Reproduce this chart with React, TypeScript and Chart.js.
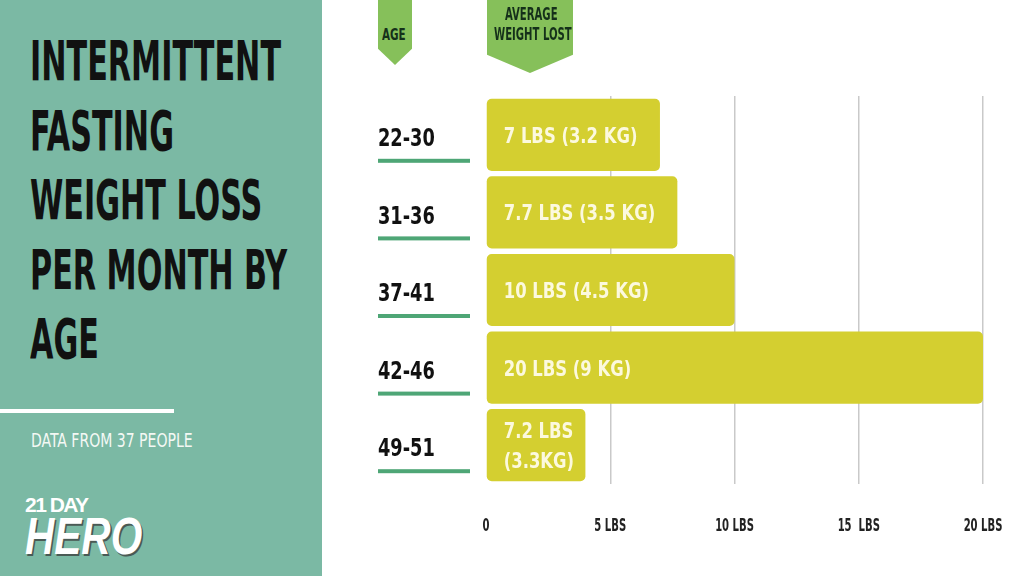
import React, { useEffect, useRef } from "react";
import { Chart, registerables } from "chart.js";

Chart.register(...registerables);

const ageGroups = ["22-30", "31-36", "37-41", "42-46", "49-51"];
const weightLostLbs = [7, 7.7, 10, 20, 4];
const barLabels = [
  ["7 LBS (3.2 KG)"],
  ["7.7 LBS (3.5 KG)"],
  ["10 LBS (4.5 KG)"],
  ["20 LBS (9 KG)"],
  ["7.2 LBS", "(3.3KG)"],
];
const xTickValues = [0, 5, 10, 15, 20];
const xTickLabels = ["0", "5 LBS", "10 LBS", "15  LBS", "20 LBS"];
const titleLines = ["INTERMITTENT", "FASTING", "WEIGHT LOSS", "PER MONTH BY", "AGE"];
const footnote = "DATA FROM 37 PEOPLE";
const ageHeader = "AGE";
const weightHeader = ["AVERAGE", "WEIGHT LOST"];

const FONT = "'DejaVu Sans Condensed', 'DejaVu Sans', sans-serif";

function drawCond(
  ctx: CanvasRenderingContext2D,
  text: string,
  x: number,
  yCenter: number,
  size: number,
  sx: number,
  align: "left" | "center",
  color: string
) {
  ctx.save();
  ctx.font = `bold ${size}px ${FONT}`;
  ctx.fillStyle = color;
  ctx.textBaseline = "alphabetic";
  ctx.textAlign = "left";
  const w = ctx.measureText(text).width * sx;
  const left = align === "center" ? x - w / 2 : x;
  ctx.translate(left, yCenter + (size * 0.729) / 2);
  ctx.scale(sx, 1);
  ctx.fillText(text, 0, 0);
  ctx.restore();
}

const overlayPlugin = {
  id: "overlay",
  afterDatasetsDraw(chart: any) {
    const ctx = chart.ctx as CanvasRenderingContext2D;
    const meta = chart.getDatasetMeta(0);
    const xs = chart.scales.x;
    const ys = chart.scales.y;
    const area = chart.chartArea;
    meta.data.forEach((bar: any, i: number) => {
      const lines = barLabels[i];
      lines.forEach((t, j) => {
        const y = bar.y + (j - (lines.length - 1) / 2) * 30;
        drawCond(ctx, t, bar.base + 17, y, 22, 0.83, "left", "#fcf9de");
      });
      const cy = ys.getPixelForValue(i);
      drawCond(ctx, ageGroups[i], area.left - 108, cy + 2, 25, 0.79, "left", "#111111");
      ctx.fillStyle = "#4ea676";
      ctx.fillRect(area.left - 108, cy + 24, 92, 4);
    });
    xTickValues.forEach((v, i) => {
      drawCond(ctx, xTickLabels[i], xs.getPixelForValue(v), area.bottom + 40, 18, 0.62, "center", "#222222");
    });
  },
};

function BarChart() {
  const ref = useRef<HTMLCanvasElement | null>(null);
  useEffect(() => {
    if (!ref.current) return;
    const chart = new Chart(ref.current, {
      type: "bar",
      data: {
        labels: ageGroups,
        datasets: [
          {
            data: weightLostLbs,
            backgroundColor: "#d4cf30",
            borderRadius: 5,
            borderSkipped: false,
            barPercentage: 0.93,
            categoryPercentage: 1,
          },
        ],
      },
      options: {
        indexAxis: "y",
        animation: false,
        responsive: true,
        maintainAspectRatio: false,
        layout: { padding: { left: 164, right: 41, top: 96, bottom: 92 } },
        plugins: { legend: { display: false }, tooltip: { enabled: false } },
        scales: {
          y: { display: false },
          x: {
            min: 0,
            max: 20,
            ticks: { display: false, stepSize: 5 },
            border: { display: false },
            grid: {
              drawTicks: false,
              lineWidth: 1.5,
              color: (c: any) => (c.tick && c.tick.value === 0 ? "rgba(0,0,0,0)" : "#c9c9c9"),
            },
          },
        },
      },
      plugins: [overlayPlugin],
    } as any);
    return () => chart.destroy();
  }, []);
  return <canvas ref={ref} />;
}

const condText = (size: number, sx: number, color: string): React.CSSProperties => ({
  position: "absolute",
  fontFamily: FONT,
  fontWeight: "bold",
  fontSize: size,
  lineHeight: 1,
  color,
  whiteSpace: "nowrap",
  transform: `scaleX(${sx})`,
  transformOrigin: "left top",
});

export default function App() {
  useEffect(() => {
    document.body.style.margin = "0";
  }, []);
  const tabClip = "polygon(0 0, 100% 0, 100% 75%, 50% 100%, 0 75%)";
  return (
    <div style={{ position: "relative", width: 1024, height: 576, overflow: "hidden", background: "#ffffff" }}>
      <div style={{ position: "absolute", left: 0, top: 0, width: 322, height: 576, background: "#7bb9a4" }}>
        {titleLines.map((t, i) => (
          <div key={t} style={{ ...condText(56, 0.6, "#111111"), left: 30, top: 33 + i * 69.5 }}>
            {t}
          </div>
        ))}
        <div style={{ position: "absolute", left: 0, top: 409, width: 174, height: 4, background: "#ffffff" }} />
        <div style={{ ...condText(20, 0.78, "#f4f8f4"), left: 31, top: 430, fontWeight: "normal" as any }}>{footnote}</div>
        <div
          style={{
            position: "absolute",
            left: 25,
            top: 494,
            fontFamily: "'Liberation Sans', Arial, sans-serif",
            fontWeight: "bold",
            fontSize: 21,
            lineHeight: 1,
            letterSpacing: -1.5,
            color: "#ffffff",
          }}
        >
          21 DAY
        </div>
        <div
          style={{
            position: "absolute",
            left: 25,
            top: 510,
            fontFamily: "'Liberation Sans', Arial, sans-serif",
            fontWeight: 900,
            fontStyle: "italic",
            fontSize: 52,
            lineHeight: 1,
            color: "#ffffff",
            transform: "scaleX(0.78)",
            transformOrigin: "left top",
            textShadow: "2px 2px 0 #4a5a55",
            whiteSpace: "nowrap",
          }}
        >
          HERO
        </div>
      </div>
      <div style={{ position: "absolute", left: 322, top: 0, width: 702, height: 576 }}>
        <BarChart />
      </div>
      <div style={{ position: "absolute", left: 378, top: 0, width: 34, height: 65, background: "#86c05a", clipPath: tabClip }}>
        <div style={{ ...condText(16, 0.72, "#15301a"), left: 4, top: 27 }}>{ageHeader}</div>
      </div>
      <div style={{ position: "absolute", left: 487, top: 0, width: 86, height: 73, background: "#86c05a", clipPath: tabClip }}>
        <div style={{ ...condText(17, 0.66, "#15301a"), left: 18, top: 6 }}>{weightHeader[0]}</div>
        <div style={{ ...condText(17, 0.66, "#15301a"), left: 7, top: 26 }}>{weightHeader[1]}</div>
      </div>
    </div>
  );
}
